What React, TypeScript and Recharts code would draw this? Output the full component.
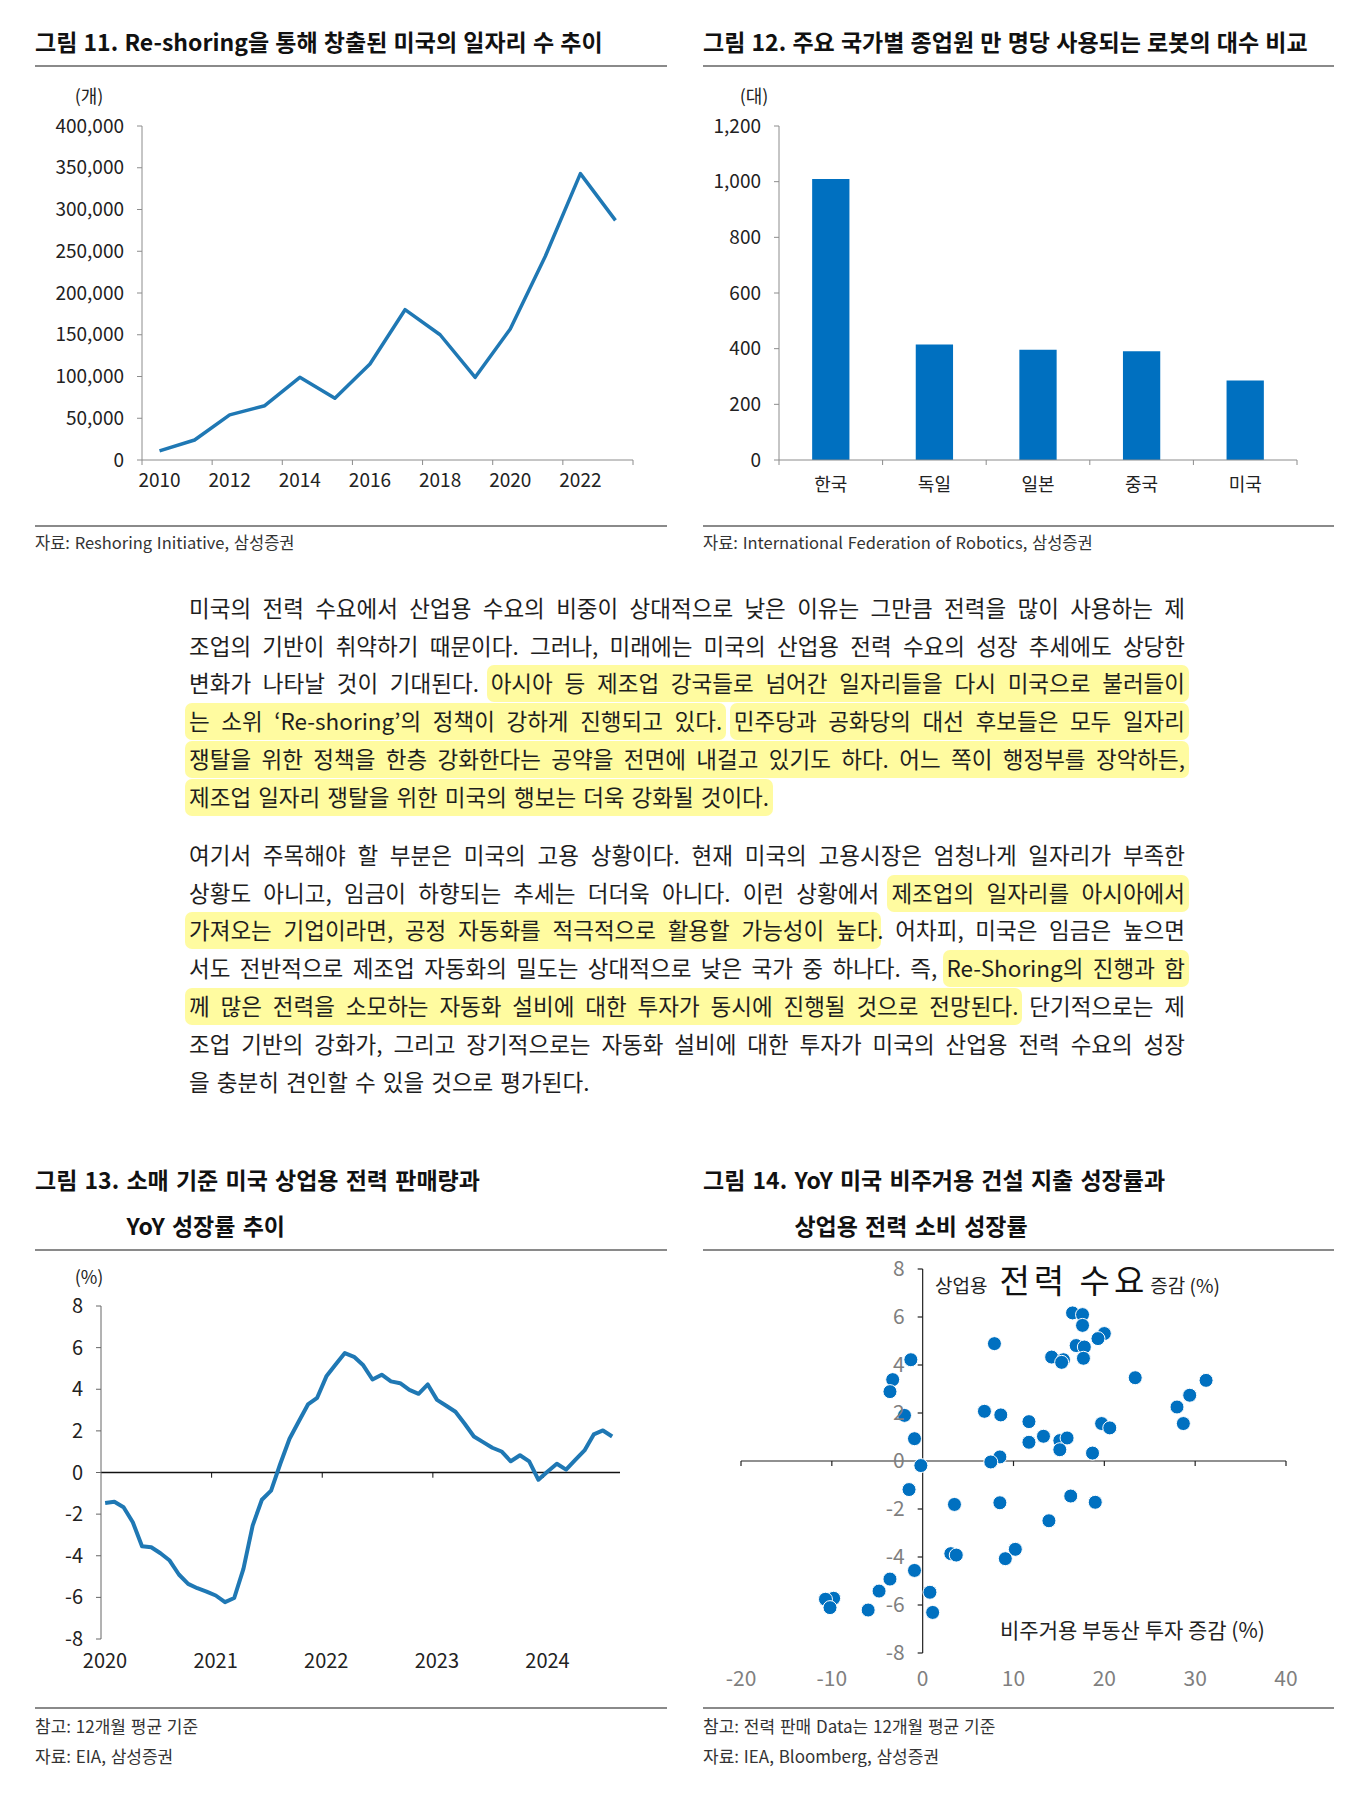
import React from 'react';
import {
  LineChart, Line, XAxis, YAxis, BarChart, Bar, ScatterChart, Scatter, ReferenceLine,
} from 'recharts';

const FONT = '"Noto Sans CJK KR", "Noto Sans", sans-serif';
const TEXT = '#222222';
const AXIS_GRAY = '#8c8c8c';
const RULE_GRAY = '#8a8a8a';
const LINE_BLUE = '#1f78b4';
const BAR_BLUE = '#0070c0';
const TICK_GRAY = '#7f7f7f';

// ---------- 그림 11 ----------
const jobYears = [2010, 2011, 2012, 2013, 2014, 2015, 2016, 2017, 2018, 2019, 2020, 2021, 2022, 2023];
const jobValues = [11000, 24000, 54000, 65000, 99000, 74000, 115000, 180000, 150000, 99000, 157000, 244000, 343000, 287000];
const jobYTicks = [0, 50000, 100000, 150000, 200000, 250000, 300000, 350000, 400000];
const jobXLabels = [2010, 2012, 2014, 2016, 2018, 2020, 2022];
const jobXBounds = [2009.5, 2011.5, 2013.5, 2015.5, 2017.5, 2019.5, 2021.5, 2023.5];

// ---------- 그림 12 ----------
const robotCountries = ['한국', '독일', '일본', '중국', '미국'];
const robotValues = [1010, 415, 396, 391, 286];
const robotYTicks = [0, 200, 400, 600, 800, 1000, 1200];

// ---------- 그림 13 ----------
const salesYearLabels = ['2020', '2021', '2022', '2023', '2024'];
const salesYearTicks = [0, 12, 24, 36, 48];
const salesYoY = [
  -1.47, -1.41, -1.67, -2.39, -3.54, -3.59, -3.88, -4.23, -4.9, -5.35, -5.56, -5.72,
  -5.91, -6.23, -6.03, -4.63, -2.55, -1.31, -0.87, 0.42, 1.62, 2.45, 3.27, 3.59,
  4.62, 5.19, 5.74, 5.56, 5.15, 4.47, 4.7, 4.38, 4.29, 3.97, 3.78, 4.23,
  3.49, 3.21, 2.92, 2.34, 1.73, 1.46, 1.19, 1.01, 0.54, 0.83, 0.53, -0.35,
  0.05, 0.42, 0.14, 0.61, 1.06, 1.83, 2.02, 1.73,
];
const salesYTicks = [-8, -6, -4, -2, 0, 2, 4, 6, 8];

// ---------- 그림 14 ----------
const realEstateGrowth = [
  16.5, 17.6, 17.6, 20.0, 19.3, 16.9, 17.8, 7.9, 14.2, 15.5, 15.3, 17.7,
  -1.3, -3.3, -3.6, 23.4, 31.2, 29.4, 28.0, 28.7, -2.0, 6.8, 8.6, 11.7,
  19.7, 20.6, -0.9, 13.3, 15.1, 15.9, 11.7, 15.1, 18.7, 8.5, 7.5, -0.2,
  -1.5, 3.5, 8.5, 16.3, 19.0, 13.9, 3.1, 3.7, 10.2, 9.1, -0.9, -3.6,
  -4.8, 0.8, -9.8, -10.7, -10.2, -6.0, 1.1,
];
const powerGrowth = [
  6.17, 6.1, 5.65, 5.31, 5.1, 4.81, 4.75, 4.89, 4.33, 4.22, 4.11, 4.28,
  4.22, 3.39, 2.89, 3.47, 3.36, 2.74, 2.25, 1.56, 1.9, 2.07, 1.92, 1.64,
  1.56, 1.38, 0.93, 1.03, 0.85, 0.96, 0.78, 0.47, 0.33, 0.17, -0.04, -0.19,
  -1.19, -1.81, -1.74, -1.46, -1.72, -2.49, -3.86, -3.92, -3.68, -4.07, -4.56, -4.92,
  -5.42, -5.47, -5.72, -5.76, -6.11, -6.21, -6.31,
];
const scatterXTicks = [-20, -10, 0, 10, 20, 30, 40];
const scatterYTicks = [-8, -6, -4, -2, 0, 2, 4, 6, 8];

const jobData = jobYears.map((year, i) => ({ year, value: jobValues[i] }));
const robotData = robotCountries.map((name, i) => ({ name, value: robotValues[i] }));
const salesData = salesYoY.map((v, i) => ({ m: i + 0.45, v }));
const scatterData = realEstateGrowth.map((x, i) => ({ x, y: powerGrowth[i] }));

const fmt = (v: number) => v.toLocaleString('en-US');

const TICK_LEN = 5;
const TITLE_SIZE = 23;

// text positioned by its visual centre line
const T = ({ x, cy, size, weight = 400, color = TEXT, children, style = {} }: any) => (
  <div
    style={{
      position: 'absolute', left: x, top: cy - 0.58 * size, fontSize: size, lineHeight: `${size}px`,
      fontWeight: weight, color, fontFamily: FONT, whiteSpace: 'nowrap', ...style,
    }}
  >
    {children}
  </div>
);

const Title = ({ x, cy, children }: any) => (
  <T x={x} cy={cy} size={TITLE_SIZE} weight={700} color="#111" style={{ wordSpacing: 1 }}>{children}</T>
);

// two-line title with hanging indent after the figure number
const Title2 = ({ x, cy, label, lines }: any) => (
  <div
    style={{
      position: 'absolute', left: x, top: cy - 23, display: 'flex', fontFamily: FONT, fontSize: TITLE_SIZE,
      fontWeight: 700, color: '#111', lineHeight: '46px', whiteSpace: 'nowrap', wordSpacing: 2,
    }}
  >
    <span>{label}&nbsp;</span>
    <div>
      {lines.map((l: string, i: number) => <div key={i}>{l}</div>)}
    </div>
  </div>
);

const Note = ({ x, cy, size = 16.5, children }: any) => (
  <T x={x} cy={cy} size={size} color="#333" style={{ wordSpacing: 1 }}>{children}</T>
);

const Rule = ({ x, y, w }: any) => (
  <div style={{ position: 'absolute', left: x, top: y, width: w, height: 2, background: RULE_GRAY }} />
);

const JobsXTick = (props: any) => {
  const { x, y, payload } = props;
  const v = payload.value as number;
  const margin = 9;
  if (jobXLabels.includes(v)) {
    return (
      <text x={x} y={y} dy="0.71em" textAnchor="middle" fill={TEXT} fontSize={19} fontFamily={FONT}>
        {v}
      </text>
    );
  }
  return <line x1={x} x2={x} y1={y - margin - TICK_LEN} y2={y - margin} stroke={AXIS_GRAY} strokeWidth={1} />;
};

const RobotTick = (props: any) => {
  const { x, y, payload, index, visibleTicksCount, width } = props;
  const margin = 13;
  const half = typeof payload.offset === 'number' && payload.offset > 0 ? payload.offset : width / visibleTicksCount / 2;
  const y1 = y - margin - TICK_LEN;
  const y2 = y - margin;
  return (
    <g>
      <line x1={x - half} x2={x - half} y1={y1} y2={y2} stroke={AXIS_GRAY} strokeWidth={1} />
      {index === visibleTicksCount - 1 && (
        <line x1={x + half} x2={x + half} y1={y1} y2={y2} stroke={AXIS_GRAY} strokeWidth={1} />
      )}
      <text x={x} y={y} dy="0.71em" textAnchor="middle" fill={TEXT} fontSize={18} fontFamily={FONT}>
        {payload.value}
      </text>
    </g>
  );
};

const SalesXTick = (props: any) => {
  const { x, y, payload, index } = props;
  return (
    <text x={x + 4} y={y} dy="0.71em" textAnchor="middle" fill={TEXT} fontSize={20} fontFamily={FONT}>
      {salesYearLabels[index] ?? payload.value}
    </text>
  );
};

const Dot = (p: any) => <circle cx={p.cx} cy={p.cy} r={7} fill={BAR_BLUE} stroke="#ffffff" strokeWidth={1} />;

const HL = ({ children }: any) => (
  <span
    style={{
      background: '#fffba0', borderRadius: 7, padding: '1px 4px 4px', margin: '0 -4px',
      boxDecorationBreak: 'clone', WebkitBoxDecorationBreak: 'clone',
    }}
  >
    {children}
  </span>
);

const LINE_H = 37.8;
const Para = ({ top, lines }: any) => (
  <div style={{ position: 'absolute', left: 189, top, width: 996, fontFamily: FONT, fontSize: 22.5, color: '#1e1e1e' }}>
    {lines.map((ln: any, i: number) => {
      const last = i === lines.length - 1;
      return (
        <div
          key={i}
          style={{
            height: LINE_H, lineHeight: `${LINE_H}px`, textAlign: 'justify',
            textAlignLast: last ? 'left' : 'justify', whiteSpace: 'nowrap', wordSpacing: last ? 2 : -3,
          }}
        >
          {ln}
        </div>
      );
    })}
  </div>
);

const para1 = [
  <>미국의 전력 수요에서 산업용 수요의 비중이 상대적으로 낮은 이유는 그만큼 전력을 많이 사용하는 제</>,
  <>조업의 기반이 취약하기 때문이다. 그러나, 미래에는 미국의 산업용 전력 수요의 성장 추세에도 상당한</>,
  <>변화가 나타날 것이 기대된다. <HL>아시아 등 제조업 강국들로 넘어간 일자리들을 다시 미국으로 불러들이</HL></>,
  <><HL>는 소위 ‘Re-shoring’의 정책이 강하게 진행되고 있다.</HL> <HL>민주당과 공화당의 대선 후보들은 모두 일자리</HL></>,
  <><HL>쟁탈을 위한 정책을 한층 강화한다는 공약을 전면에 내걸고 있기도 하다. 어느 쪽이 행정부를 장악하든,</HL></>,
  <><HL>제조업 일자리 쟁탈을 위한 미국의 행보는 더욱 강화될 것이다.</HL></>,
];
const para2 = [
  <>여기서 주목해야 할 부분은 미국의 고용 상황이다. 현재 미국의 고용시장은 엄청나게 일자리가 부족한</>,
  <>상황도 아니고, 임금이 하향되는 추세는 더더욱 아니다. 이런 상황에서 <HL>제조업의 일자리를 아시아에서</HL></>,
  <><HL>가져오는 기업이라면, 공정 자동화를 적극적으로 활용할 가능성이 높다</HL>. 어차피, 미국은 임금은 높으면</>,
  <>서도 전반적으로 제조업 자동화의 밀도는 상대적으로 낮은 국가 중 하나다. 즉, <HL>Re-Shoring의 진행과 함</HL></>,
  <><HL>께 많은 전력을 소모하는 자동화 설비에 대한 투자가 동시에 진행될 것으로 전망된다.</HL> 단기적으로는 제</>,
  <>조업 기반의 강화가, 그리고 장기적으로는 자동화 설비에 대한 투자가 미국의 산업용 전력 수요의 성장</>,
  <>을 충분히 견인할 수 있을 것으로 평가된다.</>,
];

const axisTick = { fill: TEXT, fontSize: 19, fontFamily: FONT };

export default function App() {
  return (
    <div style={{ position: 'absolute', left: 0, top: 0, width: 1357, height: 1810, background: '#fff', fontFamily: FONT }}>
      {/* ---------- 그림 11 ---------- */}
      <Title x={35} cy={43}>그림 11. Re-shoring을 통해 창출된 미국의 일자리 수 추이</Title>
      <Rule x={35} y={65} w={632} />
      <T x={69} cy={96} size={18} style={{ width: 40, textAlign: 'center' }}>(개)</T>
      <div style={{ position: 'absolute', left: 35, top: 100 }}>
        <LineChart width={620} height={400} data={jobData} margin={{ top: 26, right: 22, bottom: 0, left: 0 }}>
          <XAxis
            type="number" dataKey="year" domain={[2009.5, 2023.5]}
            ticks={[...jobXBounds, ...jobXLabels].sort((a, b) => a - b)}
            interval={0} tickLine={false} tickSize={TICK_LEN} tickMargin={9}
            tick={JobsXTick} axisLine={{ stroke: AXIS_GRAY }} height={40} allowDataOverflow
          />
          <YAxis
            type="number" domain={[0, 400000]} ticks={jobYTicks} interval={0} width={107}
            tickFormatter={fmt} tickSize={TICK_LEN} tickMargin={13} tick={axisTick}
            axisLine={{ stroke: AXIS_GRAY }} tickLine={{ stroke: AXIS_GRAY }}
          />
          <Line
            type="linear" dataKey="value" stroke={LINE_BLUE} strokeWidth={3.5} dot={false}
            isAnimationActive={false} strokeLinejoin="round"
          />
        </LineChart>
      </div>
      <Rule x={35} y={525} w={632} />
      <Note x={35} cy={544}>자료: Reshoring Initiative, 삼성증권</Note>

      {/* ---------- 그림 12 ---------- */}
      <Title x={703} cy={43}>그림 12. 주요 국가별 종업원 만 명당 사용되는 로봇의 대수 비교</Title>
      <Rule x={703} y={65} w={631} />
      <T x={734} cy={96} size={18} style={{ width: 40, textAlign: 'center' }}>(대)</T>
      <div style={{ position: 'absolute', left: 690, top: 100 }}>
        <BarChart width={620} height={400} data={robotData} margin={{ top: 26, right: 13, bottom: 0, left: 0 }} barCategoryGap="68%">
          <XAxis
            dataKey="name" type="category" interval={0} tickLine={false} tickSize={TICK_LEN} tickMargin={13}
            tick={RobotTick} axisLine={{ stroke: AXIS_GRAY }} height={40}
          />
          <YAxis
            type="number" domain={[0, 1200]} ticks={robotYTicks} interval={0} width={89}
            tickFormatter={fmt} tickSize={TICK_LEN} tickMargin={13} tick={axisTick}
            axisLine={{ stroke: AXIS_GRAY }} tickLine={{ stroke: AXIS_GRAY }}
          />
          <Bar dataKey="value" fill={BAR_BLUE} isAnimationActive={false} />
        </BarChart>
      </div>
      <Rule x={703} y={525} w={631} />
      <Note x={703} cy={544}>자료: International Federation of Robotics, 삼성증권</Note>

      {/* ---------- 본문 ---------- */}
      <Para top={588.9} lines={para1} />
      <Para top={835.9} lines={para2} />

      {/* ---------- 그림 13 ---------- */}
      <Title2 x={35} cy={1179} label="그림 13." lines={['소매 기준 미국 상업용 전력 판매량과', 'YoY 성장률 추이']} />
      <Rule x={35} y={1249} w={632} />
      <T x={69} cy={1277} size={18} style={{ width: 40, textAlign: 'center' }}>(%)</T>
      <div style={{ position: 'absolute', left: 20, top: 1280 }}>
        <LineChart width={620} height={400} data={salesData} margin={{ top: 26, right: 20, bottom: 0, left: 0 }}>
          <XAxis
            type="number" dataKey="m" domain={[0, 56.3]} ticks={salesYearTicks} interval={0}
            axisLine={false} tickLine={false} tickSize={0} tickMargin={15} height={41}
            tick={SalesXTick} allowDataOverflow
          />
          <YAxis
            type="number" domain={[-8, 8]} ticks={salesYTicks} interval={0} width={81}
            tickSize={TICK_LEN} tickMargin={13} tick={{ fill: TEXT, fontSize: 20, fontFamily: FONT }}
            axisLine={{ stroke: '#666' }} tickLine={{ stroke: '#666' }}
          />
          <ReferenceLine y={0} stroke="#111" strokeWidth={1.5} />
          {salesYearTicks.slice(1).map((t) => (
            <ReferenceLine key={t} segment={[{ x: t, y: 0 }, { x: t, y: -0.25 }]} stroke="#111" strokeWidth={1} />
          ))}
          <Line
            type="linear" dataKey="v" stroke={LINE_BLUE} strokeWidth={4} dot={false}
            isAnimationActive={false} strokeLinejoin="round"
          />
        </LineChart>
      </div>
      <Rule x={35} y={1707} w={632} />
      <Note x={35} cy={1727} size={17}>참고: 12개월 평균 기준</Note>
      <Note x={35} cy={1757} size={17}>자료: EIA, 삼성증권</Note>

      {/* ---------- 그림 14 ---------- */}
      <Title2 x={703} cy={1179} label="그림 14." lines={['YoY 미국 비주거용 건설 지출 성장률과', '상업용 전력 소비 성장률']} />
      <Rule x={703} y={1249} w={631} />
      <div style={{ position: 'absolute', left: 720, top: 1250 }}>
        <ScatterChart width={600} height={460} margin={{ top: 19, right: 34, bottom: 0, left: 21 }}>
          <XAxis
            type="number" dataKey="x" domain={[-20, 40]} ticks={scatterXTicks} interval={0}
            axisLine={false} tickLine={false} tickSize={0} tickMargin={18} height={57}
            tick={{ fill: TICK_GRAY, fontSize: 21, fontFamily: FONT }} allowDataOverflow
          />
          <YAxis type="number" dataKey="y" domain={[-8, 8]} ticks={scatterYTicks} hide allowDataOverflow />
          <ReferenceLine y={0} stroke="#222" strokeWidth={1.2} />
          <ReferenceLine x={0} stroke="#222" strokeWidth={1.2} />
          {scatterXTicks.map((t) => (
            <ReferenceLine key={`x${t}`} segment={[{ x: t, y: 0 }, { x: t, y: -0.21 }]} stroke="#222" strokeWidth={1.2} />
          ))}
          {scatterYTicks.map((t) => (
            <ReferenceLine
              key={`y${t}`}
              segment={[{ x: -0.55, y: t }, { x: 0, y: t }]}
              stroke="#222" strokeWidth={1.2}
              label={{ value: String(t), position: 'left', offset: 13, fill: TICK_GRAY, fontSize: 21, fontFamily: FONT }}
            />
          ))}
          <Scatter data={scatterData} fill={BAR_BLUE} shape={Dot} isAnimationActive={false} />
        </ScatterChart>
      </div>
      <div
        style={{
          position: 'absolute', left: 935, top: 1261, display: 'flex', alignItems: 'baseline',
          fontFamily: FONT, color: TEXT, whiteSpace: 'nowrap', lineHeight: '36px',
        }}
      >
        <span style={{ fontSize: 19 }}>상업용</span>
        <span style={{ fontSize: 33, color: '#111', letterSpacing: 4, marginLeft: 12 }}>전력 수요</span>
        <span style={{ fontSize: 19, marginLeft: 2 }}>증감 (%)</span>
      </div>
      <T x={1000} cy={1631} size={21}>비주거용 부동산 투자 증감 (%)</T>
      <Rule x={703} y={1707} w={631} />
      <Note x={703} cy={1727} size={17}>참고: 전력 판매 Data는 12개월 평균 기준</Note>
      <Note x={703} cy={1757} size={17}>자료: IEA, Bloomberg, 삼성증권</Note>
    </div>
  );
}
